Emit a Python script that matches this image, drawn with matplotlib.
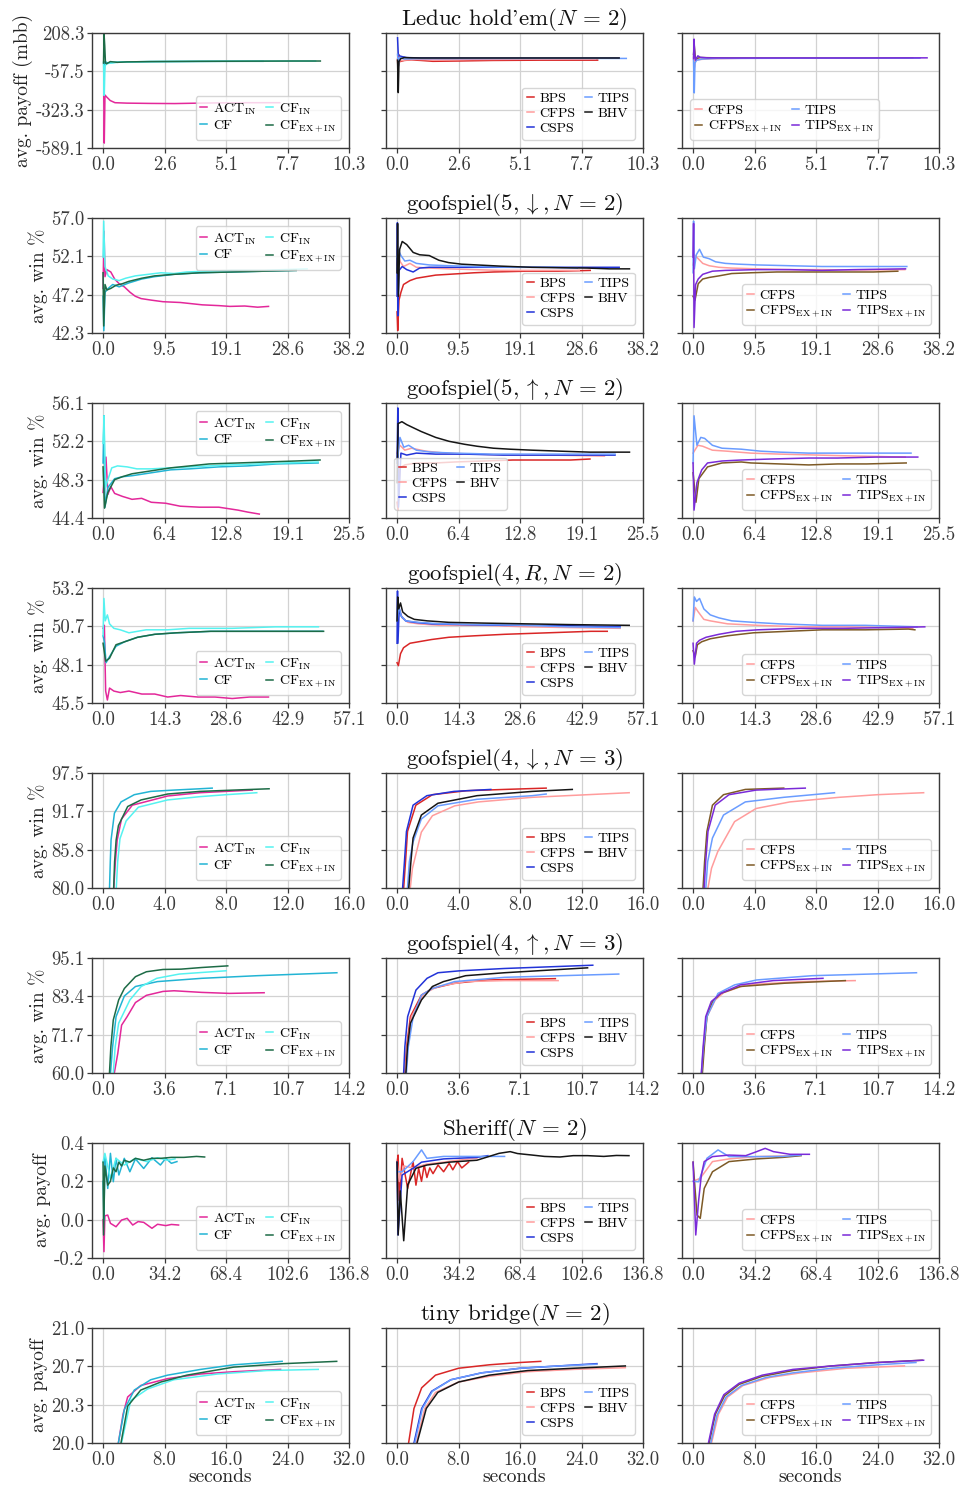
import numpy as np
import matplotlib.pyplot as plt

# Computer Modern look, like the LaTeX paper figure
plt.rcParams['font.family'] = 'serif'
plt.rcParams['font.serif'] = ['cmr10']
plt.rcParams['mathtext.fontset'] = 'cm'
plt.rcParams['axes.unicode_minus'] = False

# ------------------ Series names and colours ------------------
ACT = r"ACT$_{\mathrm{IN}}$"
CF = "CF"
CFIN = r"CF$_{\mathrm{IN}}$"
CFEXIN = r"CF$_{\mathrm{EX+IN}}$"
BPS = "BPS"
CFPS = "CFPS"
CSPS = "CSPS"
TIPS = "TIPS"
BHV = "BHV"
CFPSEXIN = r"CFPS$_{\mathrm{EX+IN}}$"
TIPSEXIN = r"TIPS$_{\mathrm{EX+IN}}$"

colors = {ACT: '#e3289a', CF: '#22b4d4', CFIN: '#55f2f0', CFEXIN: '#1d6b46',
          BPS: '#d92626', CFPS: '#ff9c9c', CSPS: '#2233d8', TIPS: '#6a9cff',
          BHV: '#151515', CFPSEXIN: '#7d5a26', TIPSEXIN: '#7a2ad8'}

col_order = [[ACT, CF, CFIN, CFEXIN],
             [BPS, CFPS, CSPS, TIPS, BHV],
             [CFPS, CFPSEXIN, TIPS, TIPSEXIN]]

# ------------------ Row settings ------------------
titles = [r"Leduc hold'em$(N\,=\,2)$",
          r"goofspiel$(5, \downarrow, N\,=\,2)$",
          r"goofspiel$(5, \uparrow, N\,=\,2)$",
          r"goofspiel$(4, R, N\,=\,2)$",
          r"goofspiel$(4, \downarrow, N\,=\,3)$",
          r"goofspiel$(4, \uparrow, N\,=\,3)$",
          r"Sheriff$(N\,=\,2)$",
          r"tiny bridge$(N\,=\,2)$"]
ylabels = ["avg. payoff (mbb)", "avg. win %", "avg. win %", "avg. win %",
           "avg. win %", "avg. win %", "avg. payoff", "avg. payoff"]
xmax = [10.3, 38.2, 25.5, 57.1, 16.0, 14.2, 136.8, 32.0]
ylims = [(-589.1, 208.3), (42.3, 57.0), (44.4, 56.1), (45.5, 53.2),
         (80.0, 97.5), (60.0, 95.1), (-0.2, 0.4), (20.0, 21.0)]
xtick_labels = [["0.0", "2.6", "5.1", "7.7", "10.3"],
                ["0.0", "9.5", "19.1", "28.6", "38.2"],
                ["0.0", "6.4", "12.8", "19.1", "25.5"],
                ["0.0", "14.3", "28.6", "42.9", "57.1"],
                ["0.0", "4.0", "8.0", "12.0", "16.0"],
                ["0.0", "3.6", "7.1", "10.7", "14.2"],
                ["0.0", "34.2", "68.4", "102.6", "136.8"],
                ["0.0", "8.0", "16.0", "24.0", "32.0"]]
ytick_labels = [["-589.1", "-323.3", "-57.5", "208.3"],
                ["42.3", "47.2", "52.1", "57.0"],
                ["44.4", "48.3", "52.2", "56.1"],
                ["45.5", "48.1", "50.7", "53.2"],
                ["80.0", "85.8", "91.7", "97.5"],
                ["60.0", "71.7", "83.4", "95.1"],
                ["-0.2", "0.0", "0.2", "0.4"],
                ["20.0", "20.3", "20.7", "21.0"]]
legend_locs = [['lower right', 'lower right', 'lower left'],
               ['upper right', 'lower right', 'lower right'],
               ['upper right', 'lower left', 'lower right'],
               ['lower right', 'lower right', 'lower right'],
               ['lower right', 'lower right', 'lower right'],
               ['lower right', 'lower right', 'lower right'],
               ['lower right', 'lower right', 'lower right'],
               ['lower right', 'lower right', 'lower right']]

# ------------------ Data: (seconds, value) ------------------
leduc_1 = {
    ACT: [(0.03, -230), (0.05, -555), (0.08, -222), (0.15, -235), (0.3, -260), (0.5, -275), (1.0, -278),
          (2.0, -280), (3.0, -281), (4.0, -278), (5.0, -276), (6.0, -275), (7.4, -275)],
    CF: [(0.02, 5), (0.05, -60), (0.08, 10), (0.2, 0), (0.5, 5), (1.0, 8), (2.0, 10), (4.0, 11), (6.0, 12), (6.7, 12)],
    CFIN: [(0.02, -10), (0.05, -225), (0.08, -20), (0.15, -5), (0.3, 0), (0.6, 5), (1.0, 8), (2.0, 10),
           (4.0, 12), (6.0, 13), (8.0, 14), (8.9, 14)],
    CFEXIN: [(0.02, 0), (0.04, 205), (0.07, 120), (0.1, 0), (0.15, -5), (0.3, 10), (0.6, 5), (1.0, 8),
             (2.0, 10), (4.0, 12), (6.0, 13), (8.0, 14), (9.1, 14)],
}
leduc_2 = {
    BPS: [(0.02, 20), (0.04, -40), (0.07, 60), (0.12, 10), (0.3, 18), (0.6, 22), (1.0, 18), (1.5, 12),
          (2.5, 14), (4.0, 18), (6.0, 20), (8.4, 20)],
    CFPS: [(0.02, 30), (0.05, -20), (0.1, 15), (0.3, 20), (0.8, 25), (1.5, 22), (3.0, 24), (5.0, 26), (8.3, 28)],
    CSPS: [(0.02, 175), (0.05, 60), (0.1, 50), (0.2, 45), (0.4, 38), (1.0, 35), (3.0, 34), (6.0, 34), (9.3, 34)],
    TIPS: [(0.02, 60), (0.06, -20), (0.1, 40), (0.3, 28), (0.8, 30), (2.0, 30), (4.0, 31), (7.0, 32), (9.6, 32)],
    BHV: [(0.02, 20), (0.05, -205), (0.08, 10), (0.15, 30), (0.3, 38), (0.6, 36), (1.0, 35), (2.0, 35),
          (4.0, 35), (6.0, 35), (9.3, 35)],
}
leduc_3 = {
    CFPS: [(0.02, 40), (0.06, -30), (0.1, 20), (0.3, 25), (0.8, 30), (2.0, 33), (5.0, 34), (9.0, 34)],
    CFPSEXIN: [(0.02, 60), (0.05, 120), (0.1, 30), (0.3, 38), (1.0, 36), (3.0, 35), (6.0, 35), (9.2, 35)],
    TIPS: [(0.02, 20), (0.05, -207), (0.08, 0), (0.15, 20), (0.4, 28), (1.0, 32), (3.0, 33), (6.0, 34), (9.5, 34)],
    TIPSEXIN: [(0.02, 30), (0.04, 166), (0.07, 60), (0.1, 20), (0.2, 50), (0.3, 40), (0.6, 36), (1.5, 35),
               (4.0, 35), (7.0, 35), (9.8, 36)],
}

g5down_1 = {
    ACT: [(0.0, 48.0), (0.15, 55.3), (0.3, 49.5), (0.6, 50.4), (1.2, 50.1), (1.8, 49.2), (2.5, 48.6), (3.3, 48.2),
          (4.2, 47.5), (5.0, 47.0), (5.9, 46.7), (7.5, 46.5), (9.3, 46.3), (12.0, 46.2), (15.4, 45.9),
          (18.0, 45.8), (19.7, 45.7), (22.0, 45.75), (24.0, 45.6), (25.7, 45.7)],
    CF: [(0.0, 47.0), (0.12, 42.6), (0.3, 47.5), (0.8, 48.0), (1.5, 48.5), (2.5, 48.2), (4.0, 48.7), (6.0, 49.2),
         (8.0, 49.5), (11.0, 49.8), (15.0, 50.0), (20.0, 50.1), (25.0, 50.2), (30.0, 50.3)],
    CFIN: [(0.0, 52.0), (0.1, 56.6), (0.3, 50.8), (0.8, 49.6), (1.5, 49.2), (2.5, 49.0), (3.5, 49.3), (5.0, 49.6),
           (7.0, 49.8), (9.0, 50.0), (11.0, 49.9), (13.0, 50.1), (16.0, 50.2), (20.0, 50.3), (25.0, 50.3),
           (28.0, 50.4), (31.7, 50.5)],
    CFEXIN: [(0.0, 50.0), (0.1, 43.2), (0.3, 48.5), (0.6, 47.8), (1.2, 48.0), (2.0, 48.4), (3.0, 48.6),
             (4.0, 48.9), (6.0, 49.3), (8.0, 49.6), (11.0, 49.8), (15.0, 50.0), (20.0, 50.1), (25.0, 50.2),
             (30.0, 50.3)],
}
g5down_2 = {
    BPS: [(0.0, 45.0), (0.1, 42.6), (0.3, 46.5), (0.6, 47.5), (1.0, 48.5), (2.0, 49.0), (3.0, 49.3), (4.5, 49.5),
          (6.0, 49.7), (8.0, 49.8), (10.0, 49.9), (12.0, 50.0), (15.0, 50.1), (20.0, 50.2), (25.0, 50.2),
          (30.0, 50.3)],
    CFPS: [(0.0, 51.0), (0.2, 52.2), (0.5, 51.4), (1.0, 50.8), (2.0, 51.2), (3.0, 50.7), (5.0, 50.6), (8.0, 50.5),
           (12.0, 50.4), (16.0, 50.3), (20.0, 50.3), (24.0, 50.3), (28.3, 50.3)],
    CSPS: [(0.0, 47.0), (0.05, 56.4), (0.12, 44.5), (0.3, 50.3), (0.8, 50.8), (1.5, 50.4), (2.5, 50.1),
           (3.5, 50.6), (5.0, 50.7), (8.0, 50.7), (12.0, 50.7), (18.0, 50.7), (25.0, 50.7), (34.5, 50.7)],
    TIPS: [(0.0, 52.0), (0.2, 52.9), (0.6, 52.2), (1.2, 51.5), (2.0, 51.6), (3.0, 51.2), (5.0, 51.0), (8.0, 50.9),
           (12.0, 50.8), (18.0, 50.7), (24.0, 50.7), (28.0, 50.6)],
    BHV: [(0.0, 50.0), (0.08, 56.3), (0.2, 47.0), (0.4, 53.0), (0.8, 54.0), (1.5, 53.6), (2.5, 52.6), (3.5, 52.3),
          (5.0, 52.2), (6.5, 51.6), (8.0, 51.3), (10.0, 51.1), (12.4, 51.0), (16.0, 50.85), (20.9, 50.7),
          (25.0, 50.65), (29.6, 50.6), (33.0, 50.5), (36.1, 50.5)],
}
g5down_3 = {
    CFPS: [(0.0, 51.0), (0.3, 52.2), (0.8, 51.8), (1.5, 51.2), (2.5, 50.9), (4.0, 50.7), (6.0, 50.6), (10.0, 50.5),
           (15.0, 50.4), (20.0, 50.4), (25.0, 50.35), (32.9, 50.4)],
    CFPSEXIN: [(0.0, 47.0), (0.3, 46.5), (0.8, 48.6), (1.5, 49.2), (2.5, 49.4), (4.0, 49.6), (6.0, 49.9),
               (9.0, 50.0), (13.0, 50.1), (18.0, 50.1), (24.0, 50.1), (28.0, 50.1), (31.8, 50.2)],
    TIPS: [(0.0, 50.0), (0.08, 56.6), (0.2, 50.5), (0.5, 52.3), (1.0, 53.0), (1.6, 52.0), (2.5, 51.8), (3.5, 51.4),
           (5.0, 51.2), (7.0, 51.1), (10.0, 51.0), (15.0, 50.9), (20.0, 50.8), (25.0, 50.8), (29.0, 50.8),
           (33.2, 50.8)],
    TIPSEXIN: [(0.0, 52.0), (0.08, 56.3), (0.15, 43.0), (0.4, 48.5), (0.8, 49.2), (1.5, 49.8), (3.0, 50.2),
               (5.0, 50.3), (10.0, 50.4), (15.0, 50.4), (20.0, 50.3), (25.0, 50.4), (33.0, 50.5)],
}

g5up_1 = {
    ACT: [(0.0, 47.0), (0.3, 50.6), (0.5, 46.8), (0.8, 47.6), (1.2, 46.9), (2.0, 46.6), (3.0, 46.3), (4.0, 46.4),
          (5.0, 46.0), (6.5, 45.9), (8.0, 45.6), (10.0, 45.5), (12.0, 45.5), (14.0, 45.2), (15.0, 45.0),
          (16.2, 44.8)],
    CF: [(0.0, 50.0), (0.1, 54.8), (0.2, 45.5), (0.5, 47.5), (1.2, 48.4), (2.0, 48.6), (3.0, 48.7), (5.0, 49.0),
         (7.0, 49.3), (9.0, 49.4), (12.0, 49.6), (15.0, 49.7), (18.0, 49.9), (22.3, 50.0)],
    CFIN: [(0.0, 52.0), (0.1, 54.8), (0.25, 47.5), (0.5, 48.3), (0.9, 49.5), (1.5, 49.7), (2.5, 49.6), (3.5, 49.4),
           (5.0, 49.4), (7.0, 49.5), (9.0, 49.6), (11.0, 49.7), (13.0, 49.8), (16.0, 49.9), (19.0, 50.0),
           (22.3, 50.1)],
    CFEXIN: [(0.0, 49.6), (0.15, 45.4), (0.5, 47.0), (1.2, 48.3), (2.0, 48.6), (3.0, 48.9), (5.0, 49.2),
             (7.0, 49.5), (9.0, 49.7), (11.0, 49.9), (14.0, 50.0), (17.0, 50.1), (20.0, 50.2), (22.5, 50.3)],
}
g5up_2 = {
    BPS: [(0.0, 46.0), (0.1, 45.2), (0.3, 49.5), (0.8, 49.8), (2.0, 50.0), (4.0, 50.0), (6.0, 50.1), (9.0, 50.2),
          (12.0, 50.3), (15.0, 50.3), (18.0, 50.3), (20.0, 50.4)],
    CFPS: [(0.0, 51.0), (0.3, 51.8), (0.8, 51.3), (1.5, 51.5), (3.0, 51.2), (5.0, 51.0), (8.0, 50.9),
           (12.0, 50.8), (16.0, 50.8), (21.5, 50.7)],
    CSPS: [(0.0, 50.0), (0.08, 55.6), (0.15, 45.5), (0.4, 51.0), (1.0, 50.8), (2.0, 51.0), (4.0, 50.9),
           (7.0, 50.9), (11.0, 50.8), (16.0, 50.8), (22.6, 50.8)],
    TIPS: [(0.0, 50.0), (0.3, 52.6), (0.7, 51.6), (1.2, 51.8), (2.0, 51.3), (3.5, 51.1), (6.0, 51.0), (10.0, 50.9),
           (15.0, 50.9), (20.0, 50.9), (22.6, 50.9)],
    BHV: [(0.0, 48.0), (0.1, 54.0), (0.5, 54.2), (1.0, 53.9), (2.5, 53.2), (4.0, 52.6), (5.4, 52.2), (7.0, 51.9),
          (8.3, 51.7), (10.0, 51.5), (11.7, 51.4), (14.0, 51.3), (16.9, 51.2), (20.0, 51.1), (24.1, 51.1)],
}
g5up_3 = {
    CFPS: [(0.0, 51.0), (0.5, 51.8), (1.0, 51.7), (2.0, 51.3), (3.5, 51.2), (6.0, 51.0), (9.0, 50.9), (13.0, 50.8),
           (17.0, 50.7), (22.0, 50.6)],
    CFPSEXIN: [(0.0, 49.0), (0.3, 46.0), (0.6, 48.4), (1.5, 49.6), (3.0, 50.0), (5.0, 50.1), (6.0, 50.0),
               (9.0, 49.9), (12.0, 49.8), (15.0, 49.9), (18.0, 49.9), (22.1, 50.0)],
    TIPS: [(0.0, 50.0), (0.1, 54.8), (0.4, 51.8), (0.8, 52.6), (1.2, 52.5), (2.0, 51.8), (3.0, 51.5), (5.0, 51.4),
           (7.0, 51.2), (9.0, 51.1), (12.0, 51.0), (15.0, 51.0), (19.0, 51.0), (22.6, 51.0)],
    TIPSEXIN: [(0.0, 50.0), (0.1, 45.2), (0.4, 48.0), (0.9, 49.3), (1.5, 50.0), (3.0, 50.2), (5.0, 50.3),
               (8.0, 50.4), (12.0, 50.5), (15.0, 50.5), (19.0, 50.6), (23.3, 50.6)],
}

g4r_1 = {
    ACT: [(0.0, 50.5), (0.3, 50.7), (0.6, 46.3), (1.0, 45.7), (1.5, 46.5), (2.5, 46.3), (4.0, 46.2), (6.0, 46.3),
          (9.0, 46.1), (12.0, 46.1), (15.0, 45.9), (18.0, 46.0), (22.0, 45.9), (26.0, 45.9), (30.0, 45.8),
          (34.0, 45.9), (38.4, 45.9)],
    CF: [(0.0, 50.0), (0.3, 49.6), (0.7, 48.2), (1.5, 48.6), (3.0, 49.3), (5.0, 49.6), (8.0, 49.9), (12.0, 50.1),
         (17.0, 50.2), (25.0, 50.3), (35.0, 50.3), (45.0, 50.3), (51.0, 50.3)],
    CFIN: [(0.0, 50.0), (0.2, 52.5), (0.5, 51.0), (1.0, 51.4), (1.5, 50.8), (2.5, 50.5), (4.0, 50.4), (6.0, 50.2),
           (8.0, 50.3), (10.0, 50.4), (15.0, 50.4), (20.0, 50.5), (30.0, 50.5), (40.0, 50.6), (50.0, 50.6)],
    CFEXIN: [(0.0, 49.5), (0.6, 48.3), (1.5, 48.5), (3.0, 49.4), (5.0, 49.6), (8.0, 49.9), (12.0, 50.1),
             (17.0, 50.2), (25.0, 50.3), (35.0, 50.3), (45.0, 50.3), (51.2, 50.3)],
}
g4r_2 = {
    BPS: [(0.0, 48.2), (0.3, 48.0), (0.8, 48.8), (1.5, 49.2), (3.0, 49.5), (5.0, 49.6), (8.0, 49.75), (12.0, 49.9),
          (18.0, 50.0), (25.0, 50.1), (35.0, 50.2), (45.0, 50.3), (48.8, 50.3)],
    CFPS: [(0.0, 51.0), (0.5, 51.8), (1.2, 51.2), (2.5, 50.9), (5.0, 50.8), (10.0, 50.7), (20.0, 50.7),
           (30.0, 50.6), (40.0, 50.55), (51.8, 50.5)],
    CSPS: [(0.0, 49.5), (0.1, 53.0), (0.2, 49.5), (0.5, 51.8), (1.0, 51.3), (2.0, 51.0), (4.0, 50.9), (8.0, 50.8),
           (15.0, 50.75), (25.0, 50.7), (35.0, 50.7), (45.0, 50.65), (51.8, 50.6)],
    TIPS: [(0.0, 51.0), (0.4, 52.0), (1.0, 51.3), (2.0, 51.0), (5.0, 50.9), (10.0, 50.8), (20.0, 50.75),
           (30.0, 50.7), (40.0, 50.6), (51.8, 50.55)],
    BHV: [(0.0, 51.0), (0.15, 52.6), (0.4, 51.8), (0.8, 52.2), (1.3, 51.6), (2.5, 51.3), (4.0, 51.1), (7.0, 51.0),
          (12.0, 50.9), (20.0, 50.85), (30.0, 50.8), (40.0, 50.75), (53.9, 50.7)],
}
g4r_3 = {
    CFPS: [(0.0, 51.0), (0.5, 51.9), (1.2, 51.6), (2.5, 51.1), (4.0, 51.0), (8.0, 50.8), (15.0, 50.7), (25.0, 50.6),
           (35.0, 50.6), (45.0, 50.55), (51.0, 50.5)],
    CFPSEXIN: [(0.0, 49.0), (0.5, 48.6), (1.0, 49.4), (2.0, 49.6), (4.0, 49.8), (8.0, 50.0), (14.0, 50.2),
               (22.0, 50.3), (30.0, 50.4), (40.0, 50.4), (50.0, 50.45), (51.5, 50.4)],
    TIPS: [(0.0, 51.0), (0.3, 52.6), (0.8, 52.3), (1.5, 52.5), (2.5, 51.8), (4.0, 51.4), (6.0, 51.2), (9.0, 51.0),
           (14.0, 50.9), (20.0, 50.8), (30.0, 50.7), (40.0, 50.7), (52.0, 50.6)],
    TIPSEXIN: [(0.0, 49.5), (0.3, 48.1), (0.8, 49.5), (1.5, 49.7), (3.0, 49.9), (6.0, 50.1), (10.0, 50.3),
               (15.0, 50.4), (25.0, 50.5), (35.0, 50.5), (45.0, 50.55), (53.8, 50.6)],
}

g4down_1 = {
    ACT: [(0.7, 80.0), (0.8, 84.0), (0.92, 87.3), (1.2, 90.5), (1.9, 92.6), (4.2, 94.0), (6.3, 94.5), (9.7, 94.9)],
    CF: [(0.42, 80.0), (0.47, 84.0), (0.52, 87.3), (0.74, 91.4), (1.17, 93.1), (2.03, 94.2), (3.1, 94.7),
         (4.6, 94.9), (6.3, 95.1), (7.1, 95.2)],
    CFIN: [(0.86, 80.0), (0.95, 84.0), (1.1, 87.5), (1.5, 90.2), (2.3, 92.3), (4.2, 93.4), (6.3, 93.9),
           (8.0, 94.2), (10.0, 94.5)],
    CFEXIN: [(0.69, 80.0), (0.75, 84.0), (0.85, 87.3), (1.0, 89.5), (1.6, 92.4), (2.47, 93.4), (4.2, 94.3),
             (6.3, 94.7), (8.5, 94.9), (10.8, 95.1)],
}
g4down_2 = {
    BPS: [(0.43, 80.0), (0.55, 84.0), (0.68, 88.6), (1.22, 92.6), (2.3, 94.2), (4.5, 94.8), (7.0, 95.0), (9.7, 95.2)],
    CFPS: [(0.86, 80.0), (1.0, 83.0), (1.58, 88.5), (2.3, 91.0), (3.75, 92.5), (5.3, 93.1), (8.8, 93.8),
           (12.4, 94.2), (15.1, 94.5)],
    CSPS: [(0.36, 80.0), (0.48, 84.0), (0.61, 88.6), (1.04, 92.6), (1.94, 94.05), (3.7, 94.7), (6.1, 95.0)],
    TIPS: [(0.68, 80.0), (0.8, 84.0), (1.04, 87.0), (1.58, 90.5), (2.66, 92.5), (5.2, 93.5), (8.8, 94.05), (9.7, 94.3)],
    BHV: [(0.76, 80.0), (0.9, 84.0), (1.04, 87.6), (1.58, 91.1), (2.66, 92.9), (5.2, 94.05), (8.8, 94.7), (11.4, 95.0)],
}
g4down_3 = {
    CFPS: [(0.97, 80.0), (1.2, 83.0), (1.6, 85.5), (2.7, 90.1), (4.1, 92.1), (6.3, 93.1), (9.5, 93.8),
           (12.0, 94.2), (15.0, 94.5)],
    CFPSEXIN: [(0.65, 80.0), (0.75, 84.0), (0.9, 88.6), (1.26, 92.6), (1.98, 94.2), (3.4, 95.0), (5.9, 95.2)],
    TIPS: [(0.83, 80.0), (0.95, 84.0), (1.26, 87.6), (1.98, 91.1), (3.4, 93.1), (5.9, 93.8), (9.2, 94.5)],
    TIPSEXIN: [(0.72, 80.0), (0.82, 84.0), (0.97, 88.6), (1.44, 92.6), (2.34, 94.2), (4.1, 94.9), (7.3, 95.2)],
}

g4up_1 = {
    ACT: [(0.65, 60.0), (0.85, 66.0), (1.07, 74.6), (1.39, 77.2), (1.87, 81.5), (2.5, 83.7), (3.46, 84.9),
          (4.1, 85.1), (5.7, 84.6), (7.3, 84.3), (9.3, 84.5)],
    CF: [(0.43, 60.0), (0.55, 68.0), (0.75, 77.2), (1.23, 83.5), (1.87, 86.4), (3.14, 87.9), (5.7, 88.9),
         (8.9, 89.7), (13.5, 90.6)],
    CFIN: [(0.59, 60.0), (0.7, 68.0), (0.9, 75.2), (1.55, 82.3), (2.2, 86.4), (3.1, 88.9), (4.4, 90.2), (7.1, 91.2)],
    CFEXIN: [(0.37, 60.0), (0.45, 68.0), (0.59, 76.2), (0.9, 82.3), (1.23, 85.8), (1.87, 89.4), (2.5, 90.9),
             (3.46, 91.6), (4.5, 91.7), (5.7, 92.2), (7.2, 92.7)],
}
g4up_2 = {
    BPS: [(0.45, 60.0), (0.55, 68.0), (0.77, 77.2), (1.41, 83.8), (2.04, 85.8), (3.32, 87.4), (5.24, 88.4), (9.14, 88.8)],
    CFPS: [(0.48, 60.0), (0.58, 68.0), (0.83, 77.2), (1.57, 84.3), (2.36, 86.4), (3.96, 87.9), (6.2, 88.2), (9.3, 88.2)],
    CSPS: [(0.38, 60.0), (0.45, 68.0), (0.61, 77.2), (1.09, 85.3), (1.73, 88.9), (2.36, 90.6), (3.64, 91.2),
           (6.2, 91.9), (11.3, 92.9)],
    TIPS: [(0.54, 60.0), (0.65, 68.0), (0.93, 77.2), (1.41, 83.8), (2.04, 85.8), (3.32, 87.9), (6.2, 89.2), (12.8, 90.2)],
    BHV: [(0.51, 60.0), (0.6, 68.0), (0.77, 75.2), (1.41, 82.3), (2.04, 86.4), (2.68, 87.9), (3.96, 89.7),
          (6.2, 90.6), (11.0, 92.1)],
}
g4up_3 = {
    CFPS: [(0.51, 60.0), (0.62, 68.0), (0.8, 77.2), (1.28, 82.3), (1.76, 84.5), (3.04, 86.9), (6.23, 87.9), (9.36, 88.2)],
    CFPSEXIN: [(0.54, 60.0), (0.65, 68.0), (0.8, 77.2), (1.12, 81.8), (1.6, 84.3), (2.72, 86.4), (5.27, 87.4),
               (8.79, 88.2)],
    TIPS: [(0.48, 60.0), (0.6, 68.0), (0.8, 77.2), (1.44, 84.3), (2.4, 86.9), (3.67, 88.4), (6.87, 89.7), (12.9, 90.6)],
    TIPSEXIN: [(0.48, 60.0), (0.58, 68.0), (0.73, 77.2), (1.05, 81.8), (1.6, 84.3), (2.72, 86.9), (4.63, 88.2),
               (7.5, 88.9)],
}

sheriff_1 = {
    ACT: [(0.0, 0.0), (0.5, -0.167), (1.0, 0.02), (2.6, 0.024), (4.1, -0.019), (7.2, -0.037), (10.3, -0.002),
          (13.4, 0.007), (16.5, -0.028), (19.5, -0.010), (22.6, -0.014), (27.2, -0.045), (30.3, -0.024),
          (34.9, -0.031), (38.0, -0.025), (42.0, -0.028)],
    CF: [(0.0, 0.2), (0.5, 0.0), (1.0, 0.337), (2.6, 0.163), (4.1, 0.346), (5.7, 0.198), (7.2, 0.32), (8.8, 0.233),
         (11.8, 0.32), (14.9, 0.25), (18.0, 0.317), (22.6, 0.267), (27.2, 0.323), (31.9, 0.285), (34.9, 0.32),
         (38.0, 0.294), (41.1, 0.303)],
    CFIN: [(0.0, 0.3), (1.0, 0.346), (4.1, 0.216), (7.2, 0.32), (11.8, 0.285), (18.0, 0.32), (24.2, 0.303),
           (30.3, 0.323), (36.0, 0.31), (40.0, 0.317)],
    CFEXIN: [(0.0, 0.30), (0.3, -0.08), (1.0, 0.28), (2.6, 0.18), (4.1, 0.20), (5.7, 0.27), (7.2, 0.25), (8.8, 0.30),
             (10.3, 0.28), (11.8, 0.31), (14.9, 0.30), (18.0, 0.32), (22.6, 0.31), (27.2, 0.32), (32.0, 0.32),
             (38.0, 0.325), (45.0, 0.325), (52.0, 0.33), (56.5, 0.327)],
}
sheriff_2 = {
    BPS: [(0.0, 0.3), (0.6, 0.337), (1.2, 0.10), (2.8, 0.32), (5.9, 0.163), (8.9, 0.303), (10.5, 0.18), (12.0, 0.268),
          (13.6, 0.20), (15.1, 0.285), (16.6, 0.22), (18.2, 0.27), (20.0, 0.24), (22.8, 0.285), (25.9, 0.25),
          (29.0, 0.294), (31.0, 0.26), (33.6, 0.303), (36.0, 0.27), (39.8, 0.30)],
    CFPS: [(0.0, 0.3), (1.2, 0.2), (3.7, 0.28), (8.9, 0.27), (16.6, 0.29), (25.9, 0.30), (33.6, 0.31), (44.4, 0.32)],
    CSPS: [(0.0, 0.30), (0.5, -0.08), (2.8, 0.233), (8.9, 0.268), (13.6, 0.30), (25.9, 0.317), (44.4, 0.325),
           (50.5, 0.334)],
    TIPS: [(0.0, 0.25), (2.8, 0.250), (8.9, 0.303), (13.6, 0.364), (16.6, 0.32), (25.9, 0.33), (44.4, 0.33),
           (59.8, 0.33)],
    BHV: [(0.0, 0.3), (0.6, -0.08), (1.8, 0.15), (3.7, -0.11), (5.9, 0.181), (10.5, 0.268), (16.6, 0.285),
          (29.0, 0.30), (44.4, 0.31), (56.7, 0.346), (62.9, 0.355), (67.0, 0.345), (75.2, 0.337), (82.0, 0.33),
          (90.6, 0.327), (98.0, 0.334), (106.0, 0.334), (115.0, 0.33), (122.0, 0.335), (129.0, 0.334)],
}
sheriff_3 = {
    CFPS: [(0.0, 0.2), (4.0, 0.216), (10.8, 0.303), (20.0, 0.317), (35.4, 0.329), (57.0, 0.334)],
    CFPSEXIN: [(0.0, 0.3), (2.2, 0.024), (4.0, 0.007), (6.2, 0.163), (10.8, 0.250), (20.0, 0.303), (35.4, 0.317),
               (50.0, 0.325), (60.1, 0.334)],
    TIPS: [(0.0, 0.2), (3.1, 0.198), (7.7, 0.320), (13.9, 0.364), (20.0, 0.329), (35.4, 0.329), (50.0, 0.33),
           (60.1, 0.337)],
    TIPSEXIN: [(0.0, 0.30), (1.5, -0.08), (3.1, 0.10), (4.6, 0.233), (6.2, 0.303), (10.8, 0.329), (20.0, 0.337),
               (29.3, 0.334), (35.4, 0.355), (40.1, 0.372), (44.7, 0.355), (53.9, 0.341), (64.7, 0.341)],
}

bridge_1 = {
    ACT: [(1.99, 20.0), (2.6, 20.25), (3.2, 20.40), (4.9, 20.50), (8.4, 20.56), (12.7, 20.60), (17.0, 20.62),
          (23.1, 20.64)],
    CF: [(1.99, 20.0), (2.77, 20.29), (4.06, 20.46), (6.2, 20.55), (8.4, 20.59), (12.7, 20.64), (17.0, 20.68),
         (23.3, 20.71)],
    CFIN: [(2.4, 20.0), (3.6, 20.37), (5.8, 20.47), (9.2, 20.55), (14.9, 20.60), (21.3, 20.63), (28.0, 20.64)],
    CFEXIN: [(2.33, 20.0), (3.2, 20.32), (4.9, 20.46), (7.5, 20.53), (10.9, 20.59), (17.0, 20.66), (23.5, 20.69),
             (30.4, 20.71)],
}
bridge_2 = {
    BPS: [(1.5, 20.0), (2.2, 20.3), (3.2, 20.48), (5.0, 20.59), (8.0, 20.65), (12.0, 20.68), (16.0, 20.70), (18.7, 20.71)],
    CFPS: [(2.5, 20.0), (3.6, 20.3), (5.0, 20.44), (8.0, 20.53), (12.0, 20.58), (17.0, 20.62), (23.0, 20.64),
           (29.7, 20.655)],
    CSPS: [(2.2, 20.0), (3.2, 20.3), (4.5, 20.45), (7.0, 20.55), (11.0, 20.61), (16.0, 20.65), (21.0, 20.67),
           (26.0, 20.69)],
    TIPS: [(2.3, 20.0), (3.3, 20.3), (4.6, 20.45), (7.0, 20.55), (11.0, 20.61), (16.0, 20.65), (21.0, 20.67),
           (26.0, 20.685)],
    BHV: [(2.6, 20.0), (3.8, 20.3), (5.3, 20.44), (8.0, 20.53), (12.0, 20.59), (17.0, 20.63), (23.0, 20.65),
          (29.7, 20.67)],
}
bridge_3 = {
    CFPS: [(2.4, 20.0), (3.3, 20.25), (4.5, 20.40), (6.5, 20.50), (10.0, 20.57), (14.0, 20.61), (20.0, 20.65),
           (27.5, 20.67)],
    CFPSEXIN: [(2.1, 20.0), (2.9, 20.25), (4.1, 20.41), (6.0, 20.51), (9.0, 20.58), (13.0, 20.63), (18.0, 20.67),
               (24.0, 20.70), (29.8, 20.72)],
    TIPS: [(2.3, 20.0), (3.1, 20.24), (4.3, 20.40), (6.3, 20.50), (9.5, 20.57), (13.0, 20.61), (18.0, 20.65),
           (24.0, 20.68), (29.0, 20.70)],
    TIPSEXIN: [(2.0, 20.0), (2.8, 20.25), (4.0, 20.42), (6.0, 20.52), (9.0, 20.59), (13.0, 20.64), (18.0, 20.67),
               (24.0, 20.70), (30.0, 20.72)],
}

panels = [[leduc_1, leduc_2, leduc_3],
          [g5down_1, g5down_2, g5down_3],
          [g5up_1, g5up_2, g5up_3],
          [g4r_1, g4r_2, g4r_3],
          [g4down_1, g4down_2, g4down_3],
          [g4up_1, g4up_2, g4up_3],
          [sheriff_1, sheriff_2, sheriff_3],
          [bridge_1, bridge_2, bridge_3]]

# ------------------ Figure layout (pixels) ------------------
W, H = 963, 1491
fig = plt.figure(figsize=(W / 100, H / 100), dpi=100)
col_left = [92, 386, 682]
ax_w, ax_h = 257, 115
row_top0, row_step = 33, 185

for r in range(8):
    top = row_top0 + r * row_step
    for c in range(3):
        ax = fig.add_axes([col_left[c] / W, 1 - (top + ax_h) / H, ax_w / W, ax_h / H])
        data = panels[r][c]
        for name in col_order[c]:
            xs, ys = zip(*data[name])
            ax.plot(xs, ys, color=colors[name], lw=1.1, label=name)

        ax.set_xlim(-0.045 * xmax[r], xmax[r])
        ax.set_ylim(*ylims[r])
        ax.set_xticks(np.linspace(0, xmax[r], 5))
        ax.set_xticklabels(xtick_labels[r])
        ax.set_yticks(np.linspace(ylims[r][0], ylims[r][1], 4))
        if c == 0:
            ax.set_yticklabels(ytick_labels[r])
            ax.set_ylabel(ylabels[r], fontsize=14, color='#222222', labelpad=2)
        else:
            ax.set_yticklabels([])
        if c == 1:
            ax.set_title(titles[r], fontsize=16.5, pad=3, color='#111111')
        if r == 7:
            ax.set_xlabel("seconds", fontsize=14, color='#222222', labelpad=0)

        ax.grid(True, color='#d2d2d2', lw=0.9)
        ax.set_axisbelow(True)
        for sp in ax.spines.values():
            sp.set_color('#3a3a3a')
            sp.set_linewidth(1.0)
        ax.tick_params(labelsize=13.5, colors='#3a3a3a', length=3.5, width=0.9, pad=2)

        ax.legend(loc=legend_locs[r][c], ncol=2, fontsize=10, handlelength=0.5,
                  handletextpad=0.4, columnspacing=0.7, labelspacing=0.15,
                  borderpad=0.35, borderaxespad=0.6, framealpha=0.8,
                  edgecolor='#cccccc', fancybox=True)

fig.savefig("out.png", dpi=100)
